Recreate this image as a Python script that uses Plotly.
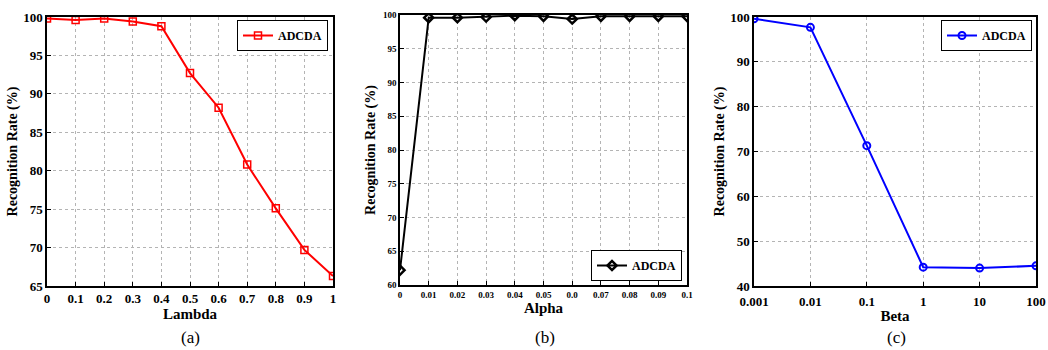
import plotly.graph_objects as go

# Panel (a)
lambda_vals = [0, 0.1, 0.2, 0.3, 0.4, 0.5, 0.6, 0.7, 0.8, 0.9, 1.0]
rate_a = [99.8, 99.6, 99.8, 99.4, 98.8, 92.7, 88.2, 80.8, 75.1, 69.7, 66.3]
ticks_a = ["0", "0.1", "0.2", "0.3", "0.4", "0.5", "0.6", "0.7", "0.8", "0.9", "1"]

# Panel (b)
alpha_vals = [0, 0.01, 0.02, 0.03, 0.04, 0.05, 0.06, 0.07, 0.08, 0.09, 0.1]
rate_b = [62.2, 99.6, 99.6, 99.7, 99.9, 99.8, 99.4, 99.8, 99.8, 99.8, 99.8]
ticks_b = ["0", "0.01", "0.02", "0.03", "0.04", "0.05", "0.0", "0.07", "0.08", "0.09", "0.1"]

# Panel (c)
beta_vals = [0.001, 0.01, 0.1, 1, 10, 100]
rate_c = [99.6, 97.7, 71.3, 44.2, 44.0, 44.5]
ticks_c = ["0.001", "0.01", "0.1", "1", "10", "100"]

FONT = "Liberation Serif"
fig = go.Figure()

fig.add_trace(go.Scatter(x=lambda_vals, y=rate_a, mode="lines+markers", name="ADCDA",
                         line=dict(color="#ff0000", width=2),
                         marker=dict(symbol="square-open", size=7, color="#ff0000", line=dict(width=1.5)),
                         xaxis="x", yaxis="y", legend="legend"))
fig.add_trace(go.Scatter(x=alpha_vals, y=rate_b, mode="lines+markers", name="ADCDA",
                         line=dict(color="#000000", width=2),
                         marker=dict(symbol="diamond-open", size=7, color="#000000", line=dict(width=2.5)),
                         xaxis="x2", yaxis="y2", legend="legend2"))
fig.add_trace(go.Scatter(x=beta_vals, y=rate_c, mode="lines+markers", name="ADCDA",
                         line=dict(color="#0000ff", width=2),
                         marker=dict(symbol="circle-open", size=7, color="#0000ff", line=dict(width=2)),
                         xaxis="x3", yaxis="y3", legend="legend3"))

W, H = 1048, 350
def dx(a, b):
    return [a / W, b / W]
def dy(top, bot):
    return [1 - bot / H, 1 - top / H]

def axis_style(size):
    return dict(showgrid=True, gridcolor="#b4b4b4", griddash="dot", gridwidth=1,
                showline=True, linecolor="black", linewidth=1.5, mirror=True,
                ticks="inside", ticklen=4, tickcolor="black", zeroline=False, automargin=False,
                tickfont=dict(family=FONT, size=size, color="black", weight="bold"))

def ytitle(standoff):
    return dict(text="Recognition Rate (%)", font=dict(family=FONT, size=14, color="black", weight="bold"),
                standoff=standoff)

def xtitle(t):
    return dict(text=t, font=dict(family=FONT, size=15, color="black", weight="bold"), standoff=2)

leg_font = dict(family=FONT, size=12, color="black", weight="bold")

fig.update_layout(
    width=W, height=H, margin=dict(l=0, r=0, t=0, b=0),
    paper_bgcolor="white", plot_bgcolor="white",
    xaxis=dict(domain=dx(47, 333), anchor="y", range=[0, 1], tickvals=lambda_vals, ticktext=ticks_a,
               title=xtitle("Lambda"), **axis_style(13)),
    yaxis=dict(domain=dy(17, 286), anchor="x", range=[65, 100], dtick=5, title=ytitle(2), **axis_style(13)),
    xaxis2=dict(domain=dx(400, 687), anchor="y2", range=[0, 0.1], tickvals=alpha_vals, ticktext=ticks_b,
                title=xtitle("Alpha"), **axis_style(9)),
    yaxis2=dict(domain=dy(15, 285), anchor="x2", range=[60, 100], dtick=5, title=ytitle(4), **axis_style(9)),
    xaxis3=dict(domain=dx(754, 1036), anchor="y3", type="log", range=[-3, 2], tickvals=beta_vals, ticktext=ticks_c,
                title=xtitle("Beta"), ticklabelstandoff=3, **axis_style(13)),
    yaxis3=dict(domain=dy(17, 286), anchor="x3", range=[40, 100], dtick=10, title=ytitle(2), **axis_style(13)),
    legend=dict(x=328 / W, y=1 - 20 / H, xanchor="right", yanchor="top", bgcolor="white",
                bordercolor="black", borderwidth=1, font=leg_font, itemwidth=30),
    legend2=dict(x=682 / W, y=1 - 281 / H, xanchor="right", yanchor="bottom", bgcolor="white",
                 bordercolor="black", borderwidth=1, font=leg_font, itemwidth=30),
    legend3=dict(x=1032 / W, y=1 - 20 / H, xanchor="right", yanchor="top", bgcolor="white",
                 bordercolor="black", borderwidth=1, font=leg_font, itemwidth=30),
    showlegend=True,
)

for xc, lab in [(190, "(a)"), (545, "(b)"), (896, "(c)")]:
    fig.add_annotation(x=xc / W, y=1 - 337 / H, xref="paper", yref="paper", text=lab, showarrow=False,
                       font=dict(family=FONT, size=17, color="black"), xanchor="center", yanchor="middle")

fig.write_html("out.html")
